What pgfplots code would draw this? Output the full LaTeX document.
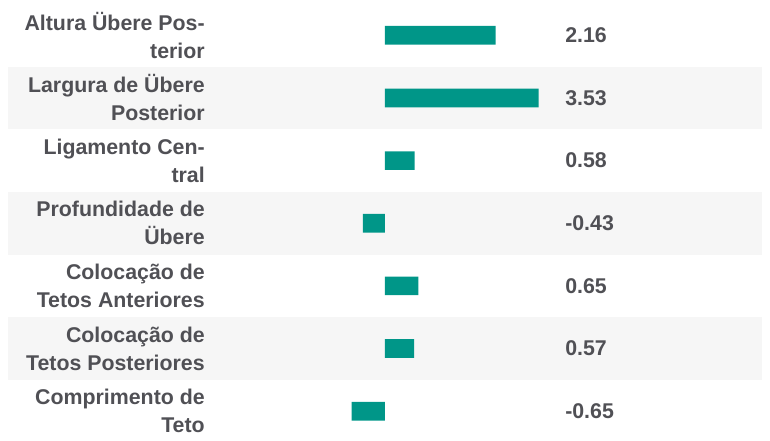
\documentclass[border=0pt]{standalone}
\usepackage{pgfplots}
\pgfplotsset{compat=1.18}
\usepackage{fontspec}
\setmainfont{Liberation Sans}
\definecolor{barteal}{RGB}{0,150,136}
\definecolor{labgray}{RGB}{80,80,85}
\definecolor{band}{RGB}{246,246,246}
\begin{document}
\begin{tikzpicture}
\path[use as bounding box] (0,0) rectangle (577.5pt,-330.75pt);
\fill[band] (6pt,-49.99pt) rectangle (571.5pt,-96.98pt);
\fill[band] (6pt,-143.96pt) rectangle (571.5pt,-190.95pt);
\fill[band] (6pt,-237.94pt) rectangle (571.5pt,-284.93pt);
\pgfplotsset{commonax/.style={
  at={(250.3pt,-3pt)}, anchor=north west,
  scale only axis, width=153.75pt, height=328.9pt,
  xmin=-1, xmax=3, ymin=0.5, ymax=7.5, y dir=reverse,
  axis line style={draw=none}, xtick=\empty, ytick={1,...,7}, major tick length=0pt,
}}
\begin{axis}[commonax,
  xbar, bar width=14pt, bar shift=0pt,
  yticklabels={{Altura Übere Pos-\\terior},{Largura de Übere\\Posterior},{Ligamento Cen-\\tral},{Profundidade de\\Übere},{Colocação de\\Tetos Anteriores},{Colocação de\\Tetos Posteriores},{Comprimento de\\Teto}},
  yticklabel style={align=right, anchor=east, inner sep=0pt, xshift=-96.55pt, font=\bfseries\fontsize{16pt}{21pt}\selectfont, text=labgray},
]
\addplot[fill=barteal, draw=none] coordinates {(2.16,1) (3.53,2) (0.58,3) (-0.43,4) (0.65,5) (0.57,6) (-0.65,7)};
\end{axis}
\begin{axis}[commonax,
  yticklabel pos=right,
  yticklabels={2.16,3.53,0.58,-0.43,0.65,0.57,-0.65},
  yticklabel style={anchor=west, inner sep=0pt, xshift=19.7pt, font=\bfseries\fontsize{16pt}{21pt}\selectfont, text=labgray},
]
\end{axis}
\end{tikzpicture}
\end{document}
